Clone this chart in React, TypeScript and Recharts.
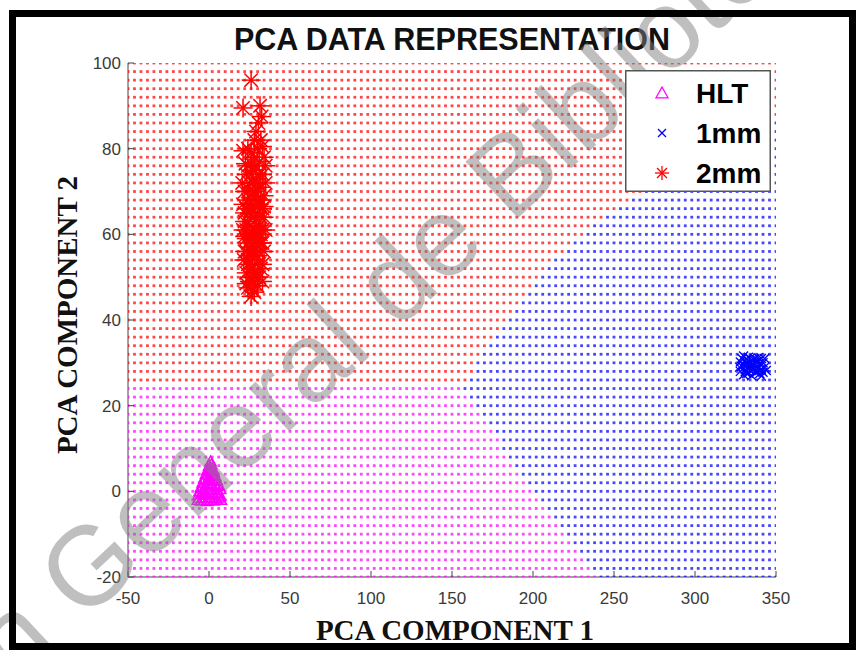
import React from 'react';
import { ScatterChart, Scatter, XAxis, YAxis, Legend } from 'recharts';

type Pt = { x: number; y: number };

const xTicks = [-50, 0, 50, 100, 150, 200, 250, 300, 350];
const yTicks = [-20, 0, 20, 40, 60, 80, 100];

// decision mesh: a dot every 4 units across, every 2 units up, bottom row first
const meshStepX = 4;
const meshStepY = 2;
// x where the 1mm region starts on each mesh row (y = -20, -18, ... 100)
const blueStart = [
  242, 238, 234, 229, 225, 221, 217, 213, 208, 204, 200, 196, 193, 189, 186, 182, 179, 175, 172, 168, 165, 161, 158,
  160, 163, 166, 169, 172, 176, 180, 184, 187, 191, 195, 200, 204, 209, 214, 220, 226, 232, 238, 245, 252, 260, 268,
  276, 285, 294, 303, 312, 322, 332, 343,
  400, 400, 400, 400, 400, 400, 400,
];
// rows up to this y are HLT left of the boundary, rows above are 2mm
const hltTop = 24;

const hltPoints = [
  [1, 7], [0, 6], [2, 5.5], [-1, 5], [1, 4.5], [3, 4.5], [-2, 4], [0, 3.5], [2, 3.5], [4, 3.5],
  [-3, 3], [-1, 2.5], [1, 2.5], [3, 2.5], [5, 2.5], [-4, 2], [-2, 1.5], [0, 1.5], [2, 1.5], [4, 1.5],
  [6, 1.5], [-5, 1], [-3, 0.5], [-1, 0.5], [1, 0.5], [3, 0.5], [5, 0.5], [7, 0.5], [-6, 0], [-4, -0.5],
  [-2, -0.5], [0, -0.5], [2, -0.5], [4, -0.5], [6, -0.5], [-6, -1.5], [-4, -1.5], [-2, -1.5], [0, -1.5], [2, -1.5],
  [4, -1.5], [6, -1.5], [7, -1], [-7, -2], [-3, -2], [1, -2], [5, -2], [-5, -2.2], [3, -2.2], [7.5, -2],
  [-1, -2.3], [0.5, 5.2], [1.5, 6.3], [-0.5, 4], [2.5, 4], [-2.5, 2.8], [3.5, 3], [-4.5, 0.8], [5.5, 1.2], [-6.5, -0.8],
];

const mm1Points = [
  [328, 28], [330, 29.5], [332, 27.5], [334, 30], [336, 28.5], [338, 29], [340, 27.5], [342, 30], [329, 31], [331, 30.5],
  [333, 28.8], [335, 27], [337, 31], [339, 30.5], [341, 28.5], [343, 29], [330, 27.2], [332, 29.8], [334, 28.2], [336, 30.8],
  [338, 27.8], [340, 29.8], [335, 29.3], [333, 31.3], [337, 28], [339, 28.8], [331, 28.4], [329, 29.2], [341, 31], [342, 27.8],
  [336, 29.6], [334, 31], [338, 30.2], [332, 30.9], [340, 28.2], [335, 28.6], [337, 29.8], [333, 27.6], [339, 31.2], [331, 27.9],
  [328, 30.2], [343, 31], [327.5, 29], [344, 28.2], [330, 31.6], [341, 26.9],
];

const mm2Points = [
  [26, 96], [21, 89.5], [31.5, 90], [30.5, 86], [32.5, 87.5], [29, 84], [32, 82], [24, 80], [21, 79.5], [33, 80.5],
  [28, 78], [26, 76.5], [31, 77], [33, 74], [23, 74], [29, 73], [25, 72], [32, 71], [22, 70], [27, 70],
  [34, 69], [24, 68], [30, 68], [33, 66], [26, 66], [22, 65], [28, 64], [34, 64], [24, 63], [31, 62],
  [33, 61], [21, 61], [27, 60], [23, 59], [29, 58], [33, 58], [25, 57], [31, 56], [22, 56], [28, 55],
  [24, 54], [30, 53], [32, 52], [26, 52], [23, 51], [31, 50], [28, 50], [25, 49], [30, 48], [24, 47.5],
  [27, 47], [28, 46.5], [26, 45.5], [25, 62], [29, 62], [27, 66], [24, 58], [30, 60], [26, 55], [28, 58],
  [23, 61], [32, 64], [27, 52], [29, 50], [25, 50], [24, 70], [28, 70], [30, 72], [26, 74], [27, 68],
  [31, 58], [25, 65], [30, 65], [22, 63], [32, 58], [27, 56], [24, 53], [30, 55], [28, 61], [26, 59],
  [29, 69], [25, 67], [31, 67], [27, 75], [29, 76], [26, 79], [30, 80], [28, 82], [27, 72], [25, 60],
  [35, 72], [34, 66.5], [35, 61], [34, 56], [33, 53], [35, 76], [21, 67], [22, 59.5], [21.5, 54], [22.5, 76.5],
  [34, 78], [20.5, 72], [33, 49], [23, 48.5], [32, 60], [32, 68], [23, 66], [23, 56], [31, 74], [24, 76],
];

const classes = [
  { name: 'HLT', color: '#ff00ff' },
  { name: '1mm', color: '#0000ff' },
  { name: '2mm', color: '#ff0000' },
];

const toPts = (arr: number[][]): Pt[] => arr.map(([x, y]) => ({ x, y }));

const meshHlt: Pt[] = [];
const meshMm1: Pt[] = [];
const meshMm2: Pt[] = [];
blueStart.forEach((edge, i) => {
  const y = -20 + i * meshStepY;
  for (let x = -50; x <= 350; x += meshStepX) {
    if (x >= edge) meshMm1.push({ x, y });
    else if (y <= hltTop) meshHlt.push({ x, y });
    else meshMm2.push({ x, y });
  }
});

const meshDot = (color: string) => (p: any) => (
  <rect x={p.cx - 1.4} y={p.cy - 1.4} width={2.8} height={2.8} fill={color} fillOpacity={0.72} />
);

const triangle = (color: string, r: number, w = 1.4) => (p: any) => (
  <polygon
    points={`${p.cx},${p.cy - r} ${p.cx + r},${p.cy + r * 0.8} ${p.cx - r},${p.cy + r * 0.8}`}
    fill="none"
    stroke={color}
    strokeWidth={w}
  />
);

const cross = (color: string, r: number, w = 1.3) => (p: any) => (
  <g stroke={color} strokeWidth={w}>
    <line x1={p.cx - r} y1={p.cy - r} x2={p.cx + r} y2={p.cy + r} />
    <line x1={p.cx - r} y1={p.cy + r} x2={p.cx + r} y2={p.cy - r} />
  </g>
);

const star = (color: string, r: number, w = 1.5) => (p: any) => {
  const d = r * 0.707;
  return (
    <g stroke={color} strokeWidth={w}>
      <line x1={p.cx - r} y1={p.cy} x2={p.cx + r} y2={p.cy} />
      <line x1={p.cx} y1={p.cy - r} x2={p.cx} y2={p.cy + r} />
      <line x1={p.cx - d} y1={p.cy - d} x2={p.cx + d} y2={p.cy + d} />
      <line x1={p.cx - d} y1={p.cy + d} x2={p.cx + d} y2={p.cy - d} />
    </g>
  );
};

const tickFont = { fontFamily: 'Liberation Sans, Arial, sans-serif', fontSize: 17, fill: '#3a3a3a' };

const XTick = ({ x, y, payload }: any) => (
  <g>
    <line x1={x} y1={y} x2={x} y2={y - 6} stroke="#444" />
    <text x={x} y={y + 27} textAnchor="middle" {...tickFont}>{payload.value}</text>
  </g>
);

const YTick = ({ x, y, payload }: any) => (
  <g>
    <line x1={x} y1={y} x2={x + 6} y2={y} stroke="#444" />
    <text x={x - 7} y={y + 6} textAnchor="end" {...tickFont}>{payload.value}</text>
  </g>
);

const legendMarkers = [triangle('#ff00ff', 6, 1.3), cross('#0000ff', 4, 1.2), star('#ff0000', 7, 1.3)];

const LegendBox = () => (
  <svg width={146} height={122} style={{ display: 'block' }}>
    <rect x={0.75} y={0.75} width={144.5} height={120.5} fill="#fff" stroke="#555" strokeWidth={1.5} />
    {classes.map((c, i) => (
      <g key={c.name}>
        {legendMarkers[i]({ cx: 37, cy: 23 + i * 40 })}
        <text
          x={71}
          y={33 + i * 40}
          fontFamily="Liberation Sans, Arial, sans-serif"
          fontWeight="bold"
          fontSize={28}
          fill="#000"
        >
          {c.name}
        </text>
      </g>
    ))}
  </svg>
);

export default function App() {
  return (
    <div style={{ position: 'absolute', left: 0, top: 0, width: 856, height: 650, background: '#fff', overflow: 'hidden' }}>
      <ScatterChart width={856} height={650} margin={{ top: 63, right: 80, bottom: 43, left: 88 }}>
        <XAxis
          type="number"
          dataKey="x"
          domain={[-50, 350]}
          ticks={xTicks}
          interval={0}
          height={30}
          tickSize={0}
          tickMargin={0}
          tick={<XTick />}
          axisLine={{ stroke: '#444' }}
          allowDataOverflow
        />
        <YAxis
          type="number"
          dataKey="y"
          domain={[-20, 100]}
          ticks={yTicks}
          interval={0}
          width={40}
          tickSize={0}
          tickMargin={0}
          tick={<YTick />}
          axisLine={{ stroke: '#444' }}
          allowDataOverflow
        />
        <Scatter name="mesh HLT" data={meshHlt} shape={meshDot('#ff00ff')} isAnimationActive={false} legendType="none" />
        <Scatter name="mesh 1mm" data={meshMm1} shape={meshDot('#0000ff')} isAnimationActive={false} legendType="none" />
        <Scatter name="mesh 2mm" data={meshMm2} shape={meshDot('#ff0000')} isAnimationActive={false} legendType="none" />
        <Scatter name="HLT" data={toPts(hltPoints)} shape={triangle('#ff00ff', 5.5)} isAnimationActive={false} />
        <Scatter name="1mm" data={toPts(mm1Points)} shape={cross('#0000ff', 4.5)} isAnimationActive={false} />
        <Scatter name="2mm" data={toPts(mm2Points)} shape={star('#ff0000', 9.5)} isAnimationActive={false} />
        <Legend
          layout="vertical"
          align="center"
          verticalAlign="middle"
          content={() => <LegendBox />}
          wrapperStyle={{ position: 'absolute', left: 625, top: 70, width: 146, height: 122, zIndex: 3 }}
        />
      </ScatterChart>
      <svg
        width={856}
        height={650}
        style={{ position: 'absolute', left: 0, top: 0, zIndex: 2, pointerEvents: 'none' }}
      >
        <text
          x={452}
          y={50}
          textAnchor="middle"
          fontFamily="Liberation Sans, Arial, sans-serif"
          fontWeight="bold"
          fontSize={30.5}
          fill="#111"
        >
          PCA DATA REPRESENTATION
        </text>
        <text
          x={455}
          y={640}
          textAnchor="middle"
          fontFamily="Liberation Serif, Times New Roman, serif"
          fontWeight="bold"
          fontSize={29}
          fill="#111"
        >
          PCA COMPONENT 1
        </text>
        <text
          x={77}
          y={315}
          textAnchor="middle"
          transform="rotate(-90 77 315)"
          fontFamily="Liberation Serif, Times New Roman, serif"
          fontWeight="bold"
          fontSize={29}
          fill="#111"
        >
          PCA COMPONENT 2
        </text>
        <text
          x={-281}
          y={963}
          transform="rotate(-43 -281 963)"
          fontFamily="Liberation Sans, Arial, sans-serif"
          fontSize={112}
          fill="#808080"
          fillOpacity={0.5}
        >
          Dirección General de Bibliotecas
        </text>
      </svg>
      <div
        style={{
          position: 'absolute',
          left: 9,
          top: 10,
          width: 847,
          height: 640,
          border: '7px solid #000',
          boxSizing: 'border-box',
          zIndex: 4,
          pointerEvents: 'none',
        }}
      />
    </div>
  );
}
